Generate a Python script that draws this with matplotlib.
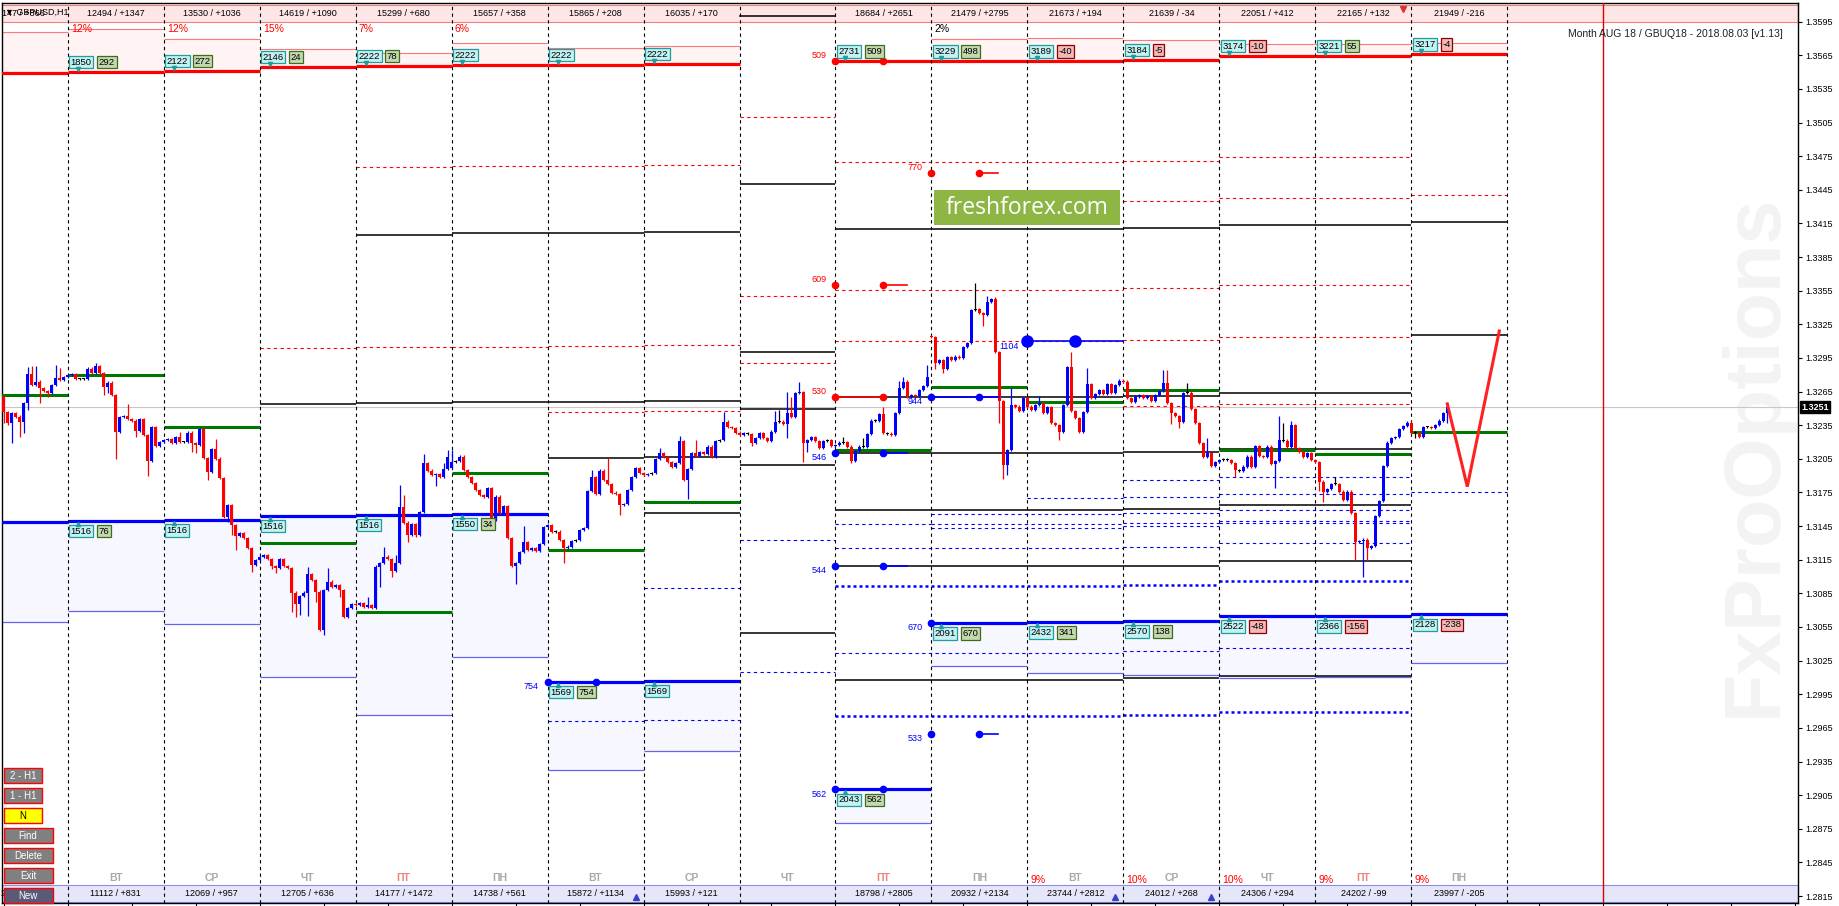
import matplotlib
matplotlib.use("Agg")
import matplotlib.pyplot as plt
from matplotlib.patches import Rectangle
from matplotlib.transforms import Affine2D, blended_transform_factory

plt.rcParams['font.family'] = ['Liberation Sans', 'DejaVu Sans']

W, H = 1840, 906
BASE = 1.3000

# hourly closes, pips above 1.3000 (one list per day column)
day_m1 = [247.1, 236.7, 245.6, 242.7, 238.2, 254.5, 280.7, 270.9, 273.9, 267.9, 265.8, 263.5,
          270.9, 276.8, 275.3, 277.7]
day_00 = [279.5, 281.0, 275.9, 276.5, 276.5, 285.5, 281.9, 287.8, 281.3, 269.4, 273.0, 262.0,
          229.3, 242.0, 243.2, 240.3, 239.1, 230.2, 240.3, 226.3, 202.8, 233.1, 216.5, 220.0]
day_01 = [221.8, 223.0, 218.9, 224.8, 220.3, 220.3, 228.4, 219.4, 217.4, 231.3, 205.5, 193.6,
          214.1, 205.2, 188.2, 153.5, 163.9, 145.7, 136.5, 138.6, 134.1, 125.2, 110.3, 114.8]
day_02 = [117.8, 119.0, 115.4, 109.7, 107.4, 115.4, 109.5, 107.4, 85.7, 75.6, 82.7, 85.7,
          102.3, 97.0, 86.6, 52.4, 88.1, 95.5, 91.0, 92.5, 88.1, 64.3, 71.7, 75.6]
day_03 = [74.7, 76.2, 73.2, 74.7, 71.7, 108.9, 111.8, 117.8, 115.4, 105.3, 111.8, 161.8,
          148.1, 137.1, 146.9, 137.1, 157.3, 201.0, 194.5, 190.6, 191.5, 188.5, 195.7, 206.4]
day_04 = [202.5, 202.8, 207.0, 195.1, 189.1, 183.2, 177.2, 172.8, 171.0, 178.7, 150.5, 171.3,
          156.4, 163.0, 134.7, 109.5, 111.8, 121.6, 130.6, 123.7, 125.2, 123.1, 128.8, 144.5]
day_05 = [146.0, 140.1, 140.1, 132.6, 125.2, 126.7, 132.0, 132.6, 141.6, 143.1, 176.6, 189.1,
          173.4, 194.5, 186.2, 182.6, 174.9, 173.7, 163.9, 164.8, 177.2, 189.1, 196.6, 192.1]
day_06 = [190.6, 191.5, 192.1, 204.6, 210.0, 206.4, 202.5, 198.1, 201.6, 221.2, 186.2, 195.7,
          210.0, 207.6, 211.4, 209.3, 215.9, 207.0, 221.2, 221.8, 238.2, 233.1, 232.2, 228.4]
day_07 = [226.5, 227.8, 227.2, 219.5, 223.9, 227.8, 223.3, 221.2, 229.3, 238.2, 238.2, 236.1,
          246.2, 242.6, 264.0, 264.9, 218.9, 221.8, 224.8, 221.2, 214.4, 221.2, 221.8, 216.5]
day_08 = [217.4, 219.5, 219.8, 215.9, 203.4, 212.3, 215.9, 215.6, 227.2, 239.1, 238.9, 245.0,
          227.8, 227.5, 226.2, 246.2, 267.9, 273.9, 260.5, 262.0, 261.1, 266.4, 270.0, 278.3]
day_09 = [313.4, 290.2, 293.2, 284.9, 295.6, 293.2, 296.2, 294.7, 304.5, 308.1, 337.8, 338.4,
          334.8, 333.3, 345.2, 347.3, 300.6, 256.9, 199.5, 212.9, 253.1, 251.6, 248.0, 259.0]
day_10 = [251.6, 248.6, 253.1, 255.1, 246.2, 251.0, 236.7, 235.2, 229.3, 253.1, 287.2, 248.0,
          241.2, 229.3, 247.1, 271.8, 259.0, 262.9, 266.4, 262.9, 271.8, 263.5, 271.0, 274.8]
day_11 = [273.9, 259.0, 256.0, 260.5, 262.0, 259.0, 261.1, 256.9, 262.0, 265.8, 272.4, 254.5,
          245.6, 243.5, 238.2, 263.5, 264.1, 249.2, 236.7, 218.9, 207.0, 209.9, 198.6, 202.5]
day_12 = [204.0, 204.6, 204.0, 201.0, 195.1, 194.5, 198.1, 207.0, 197.5, 216.5, 207.6, 206.5,
          215.9, 200.4, 203.4, 221.8, 221.3, 215.9, 235.2, 214.4, 211.4, 207.0, 209.9, 204.0]
day_13 = [202.5, 184.7, 175.8, 177.8, 182.6, 182.3, 175.8, 168.3, 175.8, 156.4, 131.2, 132.0,
          133.0, 125.2, 127.3, 154.1, 167.4, 198.6, 219.5, 223.3, 224.8, 231.3, 234.3, 237.3]
day_14 = [228.4, 227.8, 224.8, 233.7, 233.1, 232.2, 235.2, 239.1, 245.6, 251.0]

first_open = 260.5
gap_open = {96: 196.6, 216: 314.6}

# notable wick extremes (hour -> pips)
wick_hi = {-10: 287.2, -9: 287.8, -8: 287.8, -3: 288.7, -2: 285.8, 5: 287.3, 7: 290.2, 15: 253.9,
           28: 229.3, 37: 222.4, 60: 108.3, 65: 107.4, 75: 82.1, 79: 126.1, 82: 119.3, 83: 181.7,
           84: 172.8, 89: 209.3, 94: 201.0, 95: 212.9, 96: 212.9, 114: 145.1, 131: 195.1,
           135: 205.5, 148: 214.4, 153: 225.4, 157: 221.8, 164: 247.1, 177: 247.7, 178: 248.6,
           180: 264.9, 181: 260.5, 183: 273.3, 194: 224.8, 199: 224.0, 204: 251.6, 208: 274.8,
           209: 277.7, 215: 288.7, 227: 361.6, 230: 350.3, 232: 349.7, 236: 267.9, 243: 261.1,
           251: 300.6, 255: 285.8, 274: 284.3, 275: 284.3, 280: 272.4, 285: 223.3, 303: 243.2,
           304: 236.7, 306: 239.1, 317: 189.1, 345: 254.0}
wick_lo = {-16: 236.7, -15: 235.0, -14: 219.5, -12: 224.8, -11: 227.8, -10: 248.6, -7: 254.5,
           -5: 260.5, 9: 262.0, 10: 263.5, 12: 204.6, 17: 224.8, 20: 190.0, 31: 211.4, 32: 210.5,
           35: 186.2, 40: 149.0, 41: 137.1, 42: 123.7, 46: 104.4, 51: 106.5, 52: 103.5, 56: 68.7,
           57: 64.3, 58: 65.8, 60: 64.9, 62: 77.6, 64: 47.9, 68: 82.1, 78: 91.0, 81: 100.0,
           85: 131.2, 87: 135.6, 92: 181.1, 112: 93.1, 124: 112.4, 138: 155.0, 155: 169.2,
           171: 216.5, 180: 223.3, 184: 202.5, 185: 211.4, 196: 201.0, 217: 285.0, 219: 281.9,
           229: 323.5, 233: 236.7, 234: 186.8, 235: 190.6, 248: 221.8, 276: 236.1, 278: 232.2,
           292: 189.1, 302: 178.7, 313: 176.6, 314: 166.8, 322: 114.8, 324: 99.9, 325: 114.8,
           337: 223.3, 345: 236.7}

# day columns -1 .. 14 and their levels (pips above 1.3000)
cols = list(range(-1, 15))
res_top = [586.0, 588.2, 579.2, 570.3, 567.3, 575.7, 571.2, 573.3, None, None, 579.5, 580.1,
           578.6, 575.1, 575.1, 576.2]
res_line = [549.5, 550.3, 551.2, 554.8, 555.7, 556.6, 556.6, 557.5, None, 559.9, 559.9, 559.9,
            561.2, 564.6, 564.6, 566.1]
sup_line = [149.0, 149.8, 150.5, 154.3, 155.2, 156.1, 6.2, 7.1, None, -89.8, 58.6, 59.5, 60.4,
            64.8, 64.8, 66.3]
sup_bottom = [59.2, 69.0, 57.7, 10.8, -23.7, 27.9, -72.8, -55.9, None, -120.1, 20.2, 14.0, 12.2,
              9.5, 10.4, 22.5]
green_line = [262.2, 280.1, 233.7, 130.0, 68.7, 192.7, 124.0, 166.3, None, 213.2, 268.8, 256.0,
              266.7, 213.2, 209.6, 229.2]

# (first col, last col, level)
red_dash = [(2, 2, 303.6), (3, 3, 465.1), (3, 3, 304.5), (4, 4, 466.0), (4, 4, 305.0),
            (5, 5, 466.0), (5, 5, 305.7), (5, 5, 246.5), (6, 6, 466.8), (6, 6, 306.6),
            (6, 6, 247.7), (7, 7, 509.7), (7, 7, 350.0), (7, 7, 290.8), (8, 10, 469.5),
            (8, 10, 355.6), (8, 10, 310.1), (11, 11, 470.4), (11, 11, 434.7), (11, 11, 357.1),
            (11, 11, 310.7), (11, 11, 251.9), (12, 13, 474.0), (12, 13, 437.4), (12, 13, 359.8),
            (12, 13, 313.4), (12, 13, 254.2), (14, 14, 440.1)]
black_solid = [(2, 2, 253.7), (3, 3, 404.4), (3, 3, 254.6), (4, 4, 406.2), (4, 4, 255.7),
               (5, 5, 406.2), (5, 5, 255.7), (5, 5, 205.8), (6, 6, 407.1), (6, 6, 256.9),
               (6, 6, 206.7), (6, 6, 156.7), (7, 7, 450.2), (7, 7, 300.1), (7, 7, 249.5),
               (7, 7, 199.5), (7, 7, 49.4), (8, 10, 409.8), (8, 10, 260.2), (8, 10, 210.2),
               (8, 10, 159.4), (8, 10, 109.4), (8, 10, 7.7), (11, 11, 410.7), (11, 11, 260.8),
               (11, 11, 210.9), (11, 11, 160.0), (11, 11, 109.7), (11, 11, 9.5), (12, 13, 413.3),
               (12, 13, 263.5), (12, 13, 213.8), (12, 13, 163.8), (12, 13, 113.6), (12, 13, 11.3),
               (14, 14, 416.0), (14, 14, 315.7)]
blue_dash = [(5, 5, -28.8), (6, 6, 89.8), (6, 6, -28.0), (7, 7, 132.6), (7, 7, 15.0),
             (8, 8, 146.6), (8, 10, 125.2), (8, 10, 31.8), (9, 10, 155.5), (9, 10, 146.6),
             (9, 10, 143.0), (10, 10, 169.8), (11, 11, 185.9), (11, 11, 170.7), (11, 11, 156.4),
             (11, 11, 147.5), (11, 11, 145.1), (11, 11, 126.1), (11, 11, 33.6), (12, 13, 188.5),
             (12, 13, 173.6), (12, 13, 159.1), (12, 13, 149.8), (12, 13, 147.5), (12, 13, 129.7),
             (12, 13, 36.3), (14, 14, 175.2)]
blue_dot = [(8, 10, 91.9), (8, 10, -24.4), (11, 11, 92.5), (11, 11, -23.5), (12, 13, 96.1),
            (12, 13, -20.8)]

# marked levels: label, colour, dot hours, level, tail end hour
marks = [("509", 'red', [192, 204], 559.9, None), ("609", 'red', [192, 204], 360.3, 210),
         ("770", 'red', [216, 228], 460.2, 232.6), ("530", 'red', [192, 204], 260.4, 204),
         ("546", 'blue', [192, 204], 210.5, 210), ("544", 'blue', [192, 204], 109.7, 210),
         ("944", 'blue', [216, 228], 260.2, 233), ("1104", 'blue', [240, 252], 310.1, 264),
         ("754", 'blue', [120, 132], 6.2, None), ("562", 'blue', [192, 204], -89.8, None),
         ("533", 'blue', [216, 228], -40.2, 232.6), ("670", 'blue', [216], 58.6, None)]

# box labels, columns 0..14
res_main = ["1850", "2122", "2146", "2222", "2222", "2222", "2222", None, "2731", "3229", "3189",
            "3184", "3174", "3221", "3217"]
res_diff = ["292", "272", "24", "78", None, None, None, None, "509", "498", "-40", "-5", "-10",
            "55", "-4"]
sup_main = ["1516", "1516", "1516", "1516", "1550", "1569", "1569", None, "2043", "2091", "2432",
            "2570", "2522", "2366", "2128"]
sup_diff = ["76", None, None, None, "34", "754", None, None, "562", "670", "341", "138", "-48",
            "-156", "-238"]

header = ["12494 / +1347", "13530 / +1036", "14619 / +1090", "15299 / +680", "15657 / +358",
          "15865 / +208", "16035 / +170", "", "18684 / +2651", "21479 / +2795", "21673 / +194",
          "21639 / -34", "22051 / +412", "22165 / +132", "21949 / -216"]
footer = ["11112 / +831", "12069 / +957", "12705 / +636", "14177 / +1472", "14738 / +561",
          "15872 / +1134", "15993 / +121", "", "18798 / +2805", "20932 / +2134", "23744 / +2812",
          "24012 / +268", "24306 / +294", "24202 / -99", "23997 / -205"]
weekdays = ["ВТ", "СР", "ЧТ", "ПТ", "ПН", "ВТ", "СР", "ЧТ", "ПТ", "ПН", "ВТ", "СР", "ЧТ", "ПТ", "ПН"]
top_pct = ["12%", "12%", "15%", "7%", "6%", "", "", "", "", "2%", "", "", "", "", ""]
bottom_pct = ["", "", "", "", "", "", "", "", "", "", "9%", "10%", "10%", "9%", "9%"]

zigzag_x = [345, 350, 358]
zigzag_v = [254.0, 180.2, 319.0]
last_price = 251.0
buttons = ["2 - H1", "1 - H1", "N", "Find", "Delete", "Exit", "New"]


def P(v):
    return BASE + v / 10000.0


fig = plt.figure(figsize=(W / 100, H / 100), dpi=100)
ax = fig.add_axes([2 / W, 3 / H, 1796 / W, 900 / H])
ax.set_xlim(-16.43, 432.7)
ax.set_ylim(P(-191.2), P(611.6))
pxt = Affine2D().scale(1.0 / W, -1.0 / H).translate(0, 1) + fig.transFigure
btx = blended_transform_factory(ax.transData, pxt)


def seg(c0, c1, v, **kw):
    ax.plot([24 * c0, 24 * (c1 + 1)], [P(v), P(v)], solid_capstyle='butt', **kw)


# header / footer bands
ax.add_patch(Rectangle((2, 5), 1796, 16.7, transform=pxt, facecolor='#FFE6E6',
                       edgecolor='#F08080', lw=0.8, zorder=1, clip_on=False))
ax.add_patch(Rectangle((2, 885), 1796, 16.7, transform=pxt, facecolor='#E6E6FA',
                       edgecolor='#8C8CEB', lw=0.8, zorder=1, clip_on=False))

# watermark
ax.text(1755, 455, "FxProOptions", transform=pxt, rotation=90, ha='center', va='center',
        fontsize=57, fontweight='bold', color='#F3F3F3', zorder=0.5)

# zones and main lines
for c, top, rl, sl, sb, g in zip(cols, res_top, res_line, sup_line, sup_bottom, green_line):
    x0, x1 = 24 * c, 24 * (c + 1)
    if top is not None:
        ax.fill_between([x0, x1], P(rl), P(top), color='#FFF3F3', lw=0, zorder=1)
        seg(c, c, top, color='#FF7878', lw=0.8, zorder=2)
    if rl is not None:
        seg(c, c, rl, color='#FF0000', lw=2.3, zorder=3)
    if sl is not None:
        ax.fill_between([x0, x1], P(sb), P(sl), color='#F7F7FF', lw=0, zorder=1)
        seg(c, c, sb, color='#6464F0', lw=0.9, zorder=2)
        seg(c, c, sl, color='#0000FF', lw=2.3, zorder=3)
    if g is not None:
        seg(c, c, g, color='#007800', lw=2.2, zorder=3)

for c0, c1, v in red_dash:
    seg(c0, c1, v, color='#FF0000', lw=0.8, ls=(0, (3, 3)), zorder=2)
for c0, c1, v in black_solid:
    seg(c0, c1, v, color='black', lw=1.1, zorder=2)
for c0, c1, v in blue_dash:
    seg(c0, c1, v, color='#0000FF', lw=0.8, ls=(0, (3, 3)), zorder=2)
for c0, c1, v in blue_dot:
    seg(c0, c1, v, color='#0000FF', lw=1.8, ls=(0, (1.2, 1.2)), zorder=2)
ax.plot([168, 192], [16, 16], color='black', lw=1.1, transform=btx, zorder=2)

# day separators, current price, month end
for k in range(16):
    ax.axvline(24 * k, color='black', lw=0.8, ls=(0, (3, 3)), zorder=4)
ax.axhline(P(last_price), color='#C8C8C8', lw=0.8, zorder=1.5)
ax.axvline(384, color='#E00000', lw=1.0, zorder=4)

# candles
all_days = [day_m1, day_00, day_01, day_02, day_03, day_04, day_05, day_06, day_07, day_08,
            day_09, day_10, day_11, day_12, day_13, day_14]
hours, closes = [], []
for c, lst in zip(cols, all_days):
    start = -len(lst) if c == -1 else 24 * c
    for i, v in enumerate(lst):
        hours.append(start + i)
        closes.append(v)

bottoms, heights, highs, lows, colors = [], [], [], [], []
prev = first_open
for x, c in zip(hours, closes):
    o = gap_open.get(x, prev)
    top, bot = max(o, c), min(o, c)
    hi = max(wick_hi.get(x, top + 1.0), top)
    lo = min(wick_lo.get(x, bot - 1.0), bot)
    if abs(c - o) < 0.7:
        colors.append('black')
    elif c > o:
        colors.append('#0000FF')
    else:
        colors.append('#FF0000')
    bottoms.append(P(bot))
    heights.append(max(P(top) - P(bot), 0.00009))
    highs.append(P(hi))
    lows.append(P(lo))
    prev = c

ax.vlines(hours, lows, highs, colors=colors, lw=0.9, zorder=5)
ax.bar(hours, heights, bottom=bottoms, width=0.75, color=colors, lw=0, zorder=6)

# projection
ax.plot(zigzag_x, [P(v) for v in zigzag_v], color='#FF2020', lw=2.2, zorder=7,
        solid_joinstyle='miter')

# marked levels
for label, colr, dots, v, tail in marks:
    c = '#FF0000' if colr == 'red' else '#0000FF'
    big = label == "1104"
    if len(dots) > 1 and tail is not None:
        ax.plot([dots[0] if label in ("530", "944", "1104") else dots[-1], tail], [P(v), P(v)],
                color=c, lw=1.2, zorder=6)
    ax.plot(dots, [P(v)] * len(dots), ls='none', marker='o', ms=8 if big else 4.5, color=c,
            zorder=7)
    dy = 5 if colr == 'red' else -5
    ax.annotate(label, xy=(dots[0], P(v)), xytext=(-9, dy), textcoords='offset pixels',
                ha='right', va='center', fontsize=6.5, color=c, zorder=7)


def box(x, v, s, dy, va, kind, dx):
    if kind == 'main':
        fc, ec = '#C4F2F2', '#1E9E9E'
    elif s.startswith('-'):
        fc, ec = '#F2B8B8', '#8B0000'
    else:
        fc, ec = '#C4D8B0', '#3C6E1E'
    ax.annotate(s, xy=(x, P(v)), xytext=(dx, dy), textcoords='offset pixels', ha='left',
                va=va, fontsize=6.8, color='black', zorder=8,
                bbox=dict(boxstyle='square,pad=0.18', fc=fc, ec=ec, lw=0.9))


for k in range(15):
    rl = res_line[k + 1]
    sl = sup_line[k + 1]
    if res_main[k] is not None:
        box(24 * k, rl, res_main[k], 5, 'bottom', 'main', 3)
        ax.plot(24 * k + 2.5, P(rl) + 0.00025, marker='v', ms=3, color='#1E9E9E', zorder=8)
        if res_diff[k] is not None:
            box(24 * k, rl, res_diff[k], 5, 'bottom', 'diff', 31)
    if sup_main[k] is not None:
        box(24 * k, sl, sup_main[k], -6, 'top', 'main', 3)
        ax.plot(24 * k + 2.5, P(sl) - 0.00028, marker='^', ms=3, color='#1E9E9E', zorder=8)
        if sup_diff[k] is not None:
            box(24 * k, sl, sup_diff[k], -6, 'top', 'diff', 31)

# column texts
for k in range(15):
    cx = 24 * k + 12
    ax.text(cx, 13.3, header[k], transform=btx, ha='center', va='center', fontsize=6.5,
            zorder=9, clip_on=False)
    ax.text(cx, 893.3, footer[k], transform=btx, ha='center', va='center', fontsize=6.5,
            zorder=9, clip_on=False)
    dcol = '#F08080' if weekdays[k] == "ПТ" else '#A8A8A8'
    ax.text(cx, 878, weekdays[k], transform=btx, ha='center', va='center', fontsize=7.5,
            fontweight='bold', color=dcol, zorder=9)
    if top_pct[k]:
        ax.text(24 * k + 0.8, 28.5, top_pct[k], transform=btx, ha='left', va='center',
                fontsize=7.5, color='black' if top_pct[k] == "2%" else '#FF0000', zorder=9)
    if bottom_pct[k]:
        ax.text(24 * k + 0.8, 880, bottom_pct[k], transform=btx, ha='left', va='center',
                fontsize=7.5, color='#FF0000', zorder=9)

ax.plot([142.1, 261.8, 286.0], [896.7] * 3, ls='none', marker='^', ms=5, color='#3C3CD2',
        transform=btx, zorder=9)
ax.plot([333.9], [9], ls='none', marker='v', ms=5, color='#E03030', transform=btx, zorder=9)

ax.text(2, 13.3, "147 / +866", transform=pxt, ha='left', va='center', fontsize=6.5, zorder=9)
ax.text(5, 12.5, "▼ GBPUSD,H1", transform=pxt, ha='left', va='center', fontsize=6.5, zorder=9)
ax.text(1, 893.3, "281 / +708", transform=pxt, ha='left', va='center', fontsize=6.5, zorder=9)
ax.text(1783, 34, "Month AUG 18 / GBUQ18 - 2018.08.03 [v1.13]", transform=pxt, ha='right',
        va='center', fontsize=7.5, color='#202020', zorder=9, clip_on=False)

# freshforex badge
ax.add_patch(Rectangle((934, 190), 186.5, 34.7, transform=pxt, facecolor='#8DB645',
                       edgecolor='none', zorder=9))
ax.text(1027, 207.5, "freshforex.com", transform=pxt, ha='center', va='center', fontsize=16.5,
        color='white', family=['Open Sans', 'DejaVu Sans'], zorder=10)

# buttons
for i, name in enumerate(buttons):
    y = 768.3 + 20 * i
    w = 38.8 if i < 3 else 49
    fc = '#FFFF00' if name == "N" else ('#5A5A78' if name == "New" else '#808080')
    ax.add_patch(Rectangle((3.6, y), w, 14.4, transform=pxt, facecolor=fc, edgecolor='#FF0000',
                           lw=1.0, zorder=10, clip_on=False))
    ax.text(3.6 + w / 2, y + 7.4, name, transform=pxt, ha='center', va='center', fontsize=7,
            color='black' if name == "N" else 'white', zorder=11, clip_on=False)

# axes styling
for s in ax.spines.values():
    s.set_color('black')
    s.set_linewidth(1.0)
ax.set_xticks(range(-16, 433, 16))
ax.tick_params(axis='x', length=3, direction='out', labelbottom=False, width=0.8)
ax.yaxis.tick_right()
yt = [1.2815 + 0.003 * i for i in range(27)]
ax.set_yticks(yt)
ax.set_yticklabels(["%.4f" % t for t in yt])
ax.tick_params(axis='y', length=3, width=0.8, labelsize=6.5, pad=2)
ax.text(1801, 407.3, "%.4f" % P(last_price), transform=pxt, ha='left', va='center',
        fontsize=6.5, color='white', fontweight='bold', zorder=12, clip_on=False,
        bbox=dict(boxstyle='square,pad=0.15', fc='black', ec='black'))

fig.savefig("out.png", dpi=100)
